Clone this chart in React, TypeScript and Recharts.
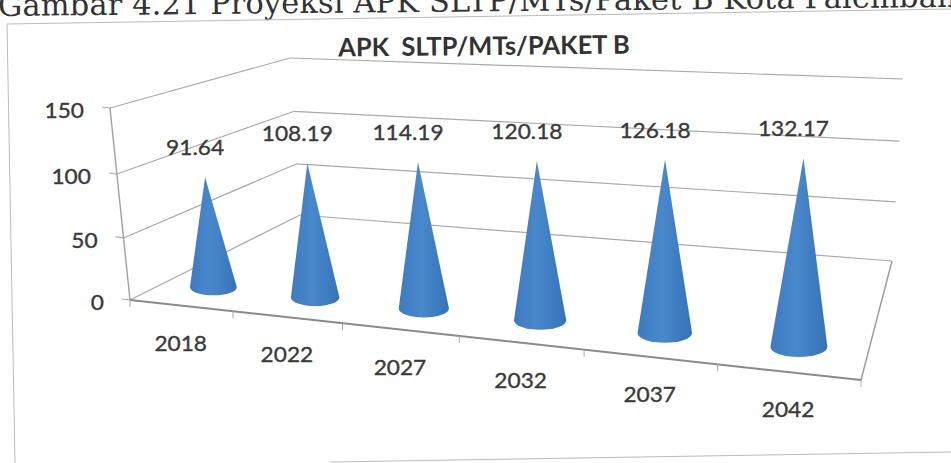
import { BarChart, Bar, XAxis, YAxis, Customized, LabelList } from 'recharts'

const years = ['2018', '2022', '2027', '2032', '2037', '2042']
const apk = [91.64, 108.19, 114.19, 120.18, 126.18, 132.17]
const yTicks = [0, 50, 100, 150]

const chartTitle = 'APK\u00a0 SLTP/MTs/PAKET B'
const caption = 'Gambar 4.21 Proyeksi APK SLTP/MTs/Paket B Kota Palembang'

const W = 951
const H = 463
const plot = { left: 100, top: 60, width: 801, height: 303 }
const labelFont = 'Lato, "Noto Sans", sans-serif'
const inkColor = '#3a3a3a'

type Pt = [number, number]

// unit square -> quad, corners given as bottom-left, bottom-right, top-right, top-left
function makeProjection(a: Pt, b: Pt, c: Pt, d: Pt) {
  const dx1 = b[0] - c[0]
  const dx2 = d[0] - c[0]
  const sx = a[0] - b[0] + c[0] - d[0]
  const dy1 = b[1] - c[1]
  const dy2 = d[1] - c[1]
  const sy = a[1] - b[1] + c[1] - d[1]
  const det = dx1 * dy2 - dx2 * dy1
  const g = (sx * dy2 - dx2 * sy) / det
  const h = (dx1 * sy - sx * dy1) / det
  return (u: number, v: number): Pt => {
    const w = g * u + h * v + 1
    return [
      ((b[0] - a[0] + g * b[0]) * u + (d[0] - a[0] + h * d[0]) * v + a[0]) / w,
      ((b[1] - a[1] + g * b[1]) * u + (d[1] - a[1] + h * d[1]) * v + a[1]) / w,
    ]
  }
}

const frontPlane = makeProjection([130, 300], [861, 380], [879, 148], [110, 108])
const backPlane = makeProjection([300, 215], [892, 261], [903, 79], [290, 58])
const conePlane = makeProjection([165, 282], [870, 354], [878, 135], [150, 103])

const toU = (x: number) => (x - plot.left) / plot.width
const toV = (y: number) => (plot.top + plot.height - y) / plot.height

const seg = (p: Pt, q: Pt, key: string, stroke = '#a9a9a9', width = 1.2) => (
  <line key={key} x1={p[0]} y1={p[1]} x2={q[0]} y2={q[1]} stroke={stroke} strokeWidth={width} />
)

function WallGrid() {
  const levels = yTicks.map((t) => t / yTicks[yTicks.length - 1])
  return (
    <g>
      {levels.map((v, i) => (
        <g key={i}>
          {seg(frontPlane(0, v), backPlane(0, v), `side${i}`)}
          {seg(backPlane(0, v), backPlane(1, v), `back${i}`)}
          {seg(frontPlane(0, v), [frontPlane(0, v)[0] - 8, frontPlane(0, v)[1] - 1], `tick${i}`)}
        </g>
      ))}
      {seg(frontPlane(0, 0), frontPlane(0, 1), 'leftEdge', '#a0a0a0', 1.4)}
      {seg(frontPlane(1, 0), backPlane(1, 0), 'rightEdge', '#999', 1.4)}
      {seg(frontPlane(0, 0), frontPlane(1, 0), 'frontEdge', '#8a8a8a', 2)}
      {years.map((_, i) => {
        const p = frontPlane((i + 1) / years.length, 0)
        return seg(p, [p[0], p[1] + 7], `xt${i}`, '#aaa', 1)
      })}
      {seg(frontPlane(0, 0), [frontPlane(0, 0)[0], frontPlane(0, 0)[1] + 7], 'xt0', '#aaa', 1)}
    </g>
  )
}

function Cone(props: any) {
  const { x, y, width, height } = props
  const cu = toU(x + width / 2)
  const halfU = width / 2 / plot.width
  const tip = conePlane(cu, toV(y))
  const base = conePlane(cu, toV(y + height))
  const l = conePlane(cu - halfU, 0)
  const r = conePlane(cu + halfU, 0)
  // the base widens less than the plane does, so damp the projected width
  const rx = 11 + 0.55 * ((r[0] - l[0]) / 2)
  const ry = rx * 0.36
  const d = `M${tip[0]} ${tip[1]} L${base[0] - rx} ${base[1]} A${rx} ${ry} 0 0 0 ${base[0] + rx} ${base[1]} Z`
  return <path d={d} fill="url(#coneFill)" />
}

const labelText = (transform: string, anchor: string, value: any) => (
  <text
    transform={transform}
    textAnchor={anchor}
    fontFamily={labelFont}
    fontSize={21}
    fill={inkColor}
    stroke={inkColor}
    strokeWidth={0.35}
  >
    {value}
  </text>
)

function ConeLabel(props: any) {
  const { x, y, width, value } = props
  const tip = conePlane(toU(x + width / 2), toV(y))
  return labelText(`translate(${tip[0] - 10} ${tip[1] - 22}) scale(1.08 1)`, 'middle', value)
}

function YearTick(props: any) {
  const { x, payload } = props
  const p = frontPlane(toU(x), 0)
  return labelText(`translate(${p[0]} ${p[1] + 45}) scale(1.08 1)`, 'middle', payload.value)
}

function ValueTick(props: any) {
  const { y, payload } = props
  const p = frontPlane(0, toV(y))
  return labelText(`translate(${p[0] - 26} ${p[1] + 10}) scale(1.08 1)`, 'end', payload.value)
}

function Decor() {
  return (
    <g>
      <text
        transform="translate(-2 16) rotate(-0.55)"
        fontFamily='"DejaVu Serif", serif'
        fontSize={30.5}
        letterSpacing={0.1}
        fill="#333"
      >
        {caption}
      </text>
      <polyline points="951,9 7,24 15,463" fill="none" stroke="#bbb" strokeWidth={1} />
      <line x1={330} y1={462} x2={951} y2={452} stroke="#bbb" strokeWidth={1} />
      <text
        transform="translate(484 55) rotate(-0.6)"
        textAnchor="middle"
        fontFamily={labelFont}
        fontSize={25.5}
        fontWeight={700}
        fill="#333"
      >
        {chartTitle}
      </text>
    </g>
  )
}

const data = years.map((year, i) => ({ year, apk: apk[i] }))

export default function App() {
  return (
    <div style={{ position: 'absolute', left: 0, top: 0, width: W, height: H, background: '#fff', overflow: 'hidden' }}>
      <BarChart
        width={W}
        height={H}
        data={data}
        margin={{ top: plot.top, right: W - plot.left - plot.width, bottom: 50, left: 50 }}
        barCategoryGap="27%"
      >
        <defs>
          <linearGradient id="coneFill" x1="0" y1="0" x2="1" y2="0">
            <stop offset="0%" stopColor="#3d7ac0" />
            <stop offset="45%" stopColor="#4a88cc" />
            <stop offset="100%" stopColor="#3572b8" />
          </linearGradient>
        </defs>
        <Customized component={Decor} />
        <Customized component={WallGrid} />
        <XAxis dataKey="year" height={50} axisLine={false} tickLine={false} tick={YearTick} interval={0} />
        <YAxis width={50} domain={[0, 150]} ticks={yTicks} axisLine={false} tickLine={false} tick={ValueTick} interval={0} />
        <Bar dataKey="apk" shape={Cone} isAnimationActive={false}>
          <LabelList dataKey="apk" content={ConeLabel} />
        </Bar>
      </BarChart>
    </div>
  )
}
